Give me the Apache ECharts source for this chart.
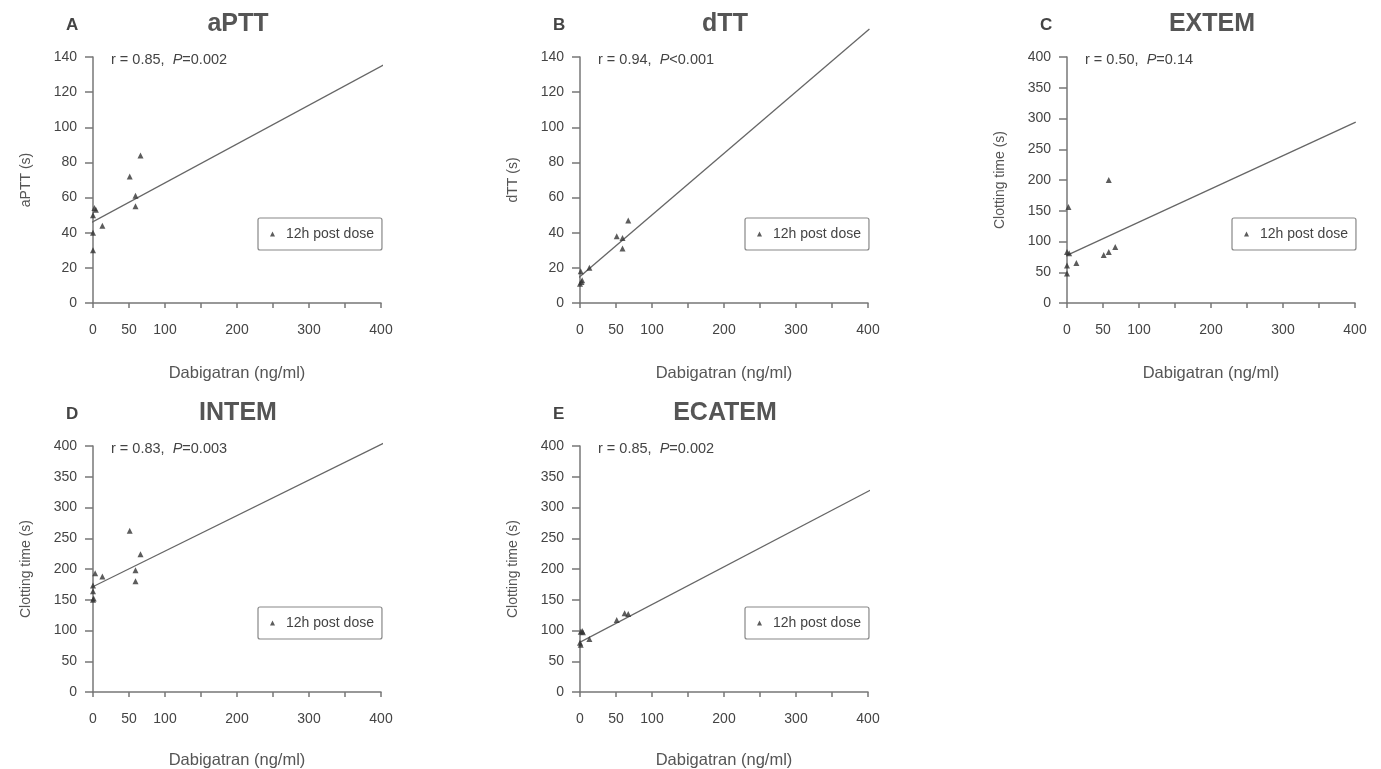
<!DOCTYPE html>
<html>
<head>
<meta charset="utf-8">
<script src="https://cdn.jsdelivr.net/npm/echarts@6/dist/echarts.min.js"></script>
<style>html,body{margin:0;padding:0;background:#fff;overflow:hidden}#c{width:1381px;height:769px}</style>
</head>
<body>
<div id="c"></div>
<script>
// ---- data ----
const panelLetters = ['A', 'B', 'C', 'D', 'E'];
const panelTitles = ['aPTT', 'dTT', 'EXTEM', 'INTEM', 'ECATEM'];
const yNames = ['aPTT (s)', 'dTT (s)', 'Clotting time (s)', 'Clotting time (s)', 'Clotting time (s)'];
const rValues = ['0.85', '0.94', '0.50', '0.83', '0.85'];
const pValues = ['=0.002', '<0.001', '=0.14', '=0.003', '=0.002'];
const yMax = [140, 140, 400, 400, 400];
const yStep = [20, 20, 50, 50, 50];
const xTicks = [0, 50, 100, 150, 200, 250, 300, 350, 400];
const xShownLabels = [0, 50, 100, 200, 300, 400];
const legendName = '12h post dose';

const aX = [66, 51, 59, 59, 2, 4, 0, 13, 0, 0];
const aY = [84, 72, 61, 55, 54, 53, 50, 44, 40, 30];
const aLineX = [-15, 415];
const aLineY = [43, 138];

const bX = [67, 51, 59, 59, 13, 1, 3, 0, 2];
const bY = [47, 38, 37, 31, 20, 18, 13, 11, 12];
const bLineX = [-16, 402];
const bLineY = [9.5, 156];

const cX = [58, 2, 0, 3, 67, 58, 51, 13, 0, 0];
const cY = [200, 156, 83, 81, 91, 83, 78, 65, 61, 48];
const cLineX = [-16, 401];
const cLineY = [69, 294];

const dX = [51, 66, 3, 13, 59, 59, 0, 0, 1, 0];
const dY = [262, 224, 193, 188, 198, 180, 173, 164, 152, 150];
const dLineX = [-17, 418];
const dLineY = [161.5, 413];

const eX = [62, 67, 51, 1, 4, 13, 1, 0, 3];
const eY = [128, 127, 117, 98, 97, 86, 77, 80, 99];
const eLineX = [-16, 403];
const eLineY = [71, 328];

const pointsX = [aX, bX, cX, dX, eX];
const pointsY = [aY, bY, cY, dY, eY];
const linesX = [aLineX, bLineX, cLineX, dLineX, eLineX];
const linesY = [aLineY, bLineY, cLineY, dLineY, eLineY];

// ---- layout ----
const FONT = "'Liberation Sans', Arial, sans-serif";
const gridPos = [
  {left: 93, top: 57, gap: 62}, {left: 580, top: 57, gap: 62}, {left: 1067, top: 57, gap: 62},
  {left: 93, top: 446, gap: 60}, {left: 580, top: 446, gap: 60}
];
const W = 288, H = 246;

const zip = (xs, ys) => xs.map((x, i) => [x, ys[i]]);

const grids = [], xAxes = [], yAxes = [], series = [], titles = [], legends = [];
gridPos.forEach((g, i) => {
  grids.push({left: g.left, top: g.top, width: W, height: H, containLabel: false, outerBoundsMode: 'none'});
  xAxes.push({
    type: 'value', gridIndex: i, min: 0, max: 400, interval: 50,
    name: 'Dabigatran (ng/ml)', nameLocation: 'middle', nameGap: g.gap,
    nameTextStyle: {fontFamily: FONT, fontSize: 16.5, color: '#555'},
    axisLine: {show: true, onZero: false, lineStyle: {color: '#777', width: 1.5}},
    axisTick: {show: true, length: 5, lineStyle: {color: '#777', width: 1.5}},
    axisLabel: {
      margin: 20, fontFamily: FONT, fontSize: 14, color: '#444',
      formatter: v => xShownLabels.indexOf(v) >= 0 ? String(v) : ''
    },
    splitLine: {show: false}
  });
  yAxes.push({
    type: 'value', gridIndex: i, min: 0, max: yMax[i], interval: yStep[i],
    name: yNames[i], nameLocation: 'middle', nameGap: 60,
    nameTextStyle: {fontFamily: FONT, fontSize: 14, color: '#555'},
    axisLine: {show: true, onZero: false, lineStyle: {color: '#777', width: 1.5}},
    axisTick: {show: true, length: 8, lineStyle: {color: '#777', width: 1.5}},
    axisLabel: {margin: 16, fontFamily: FONT, fontSize: 14, color: '#444'},
    splitLine: {show: false}
  });
  series.push({
    type: 'line', xAxisIndex: i, yAxisIndex: i,
    data: zip(linesX[i], linesY[i]), symbol: 'none', clip: false,
    lineStyle: {color: '#666', width: 1.3}, silent: true, z: 2
  });
  series.push({
    type: 'scatter', name: legendName, xAxisIndex: i, yAxisIndex: i,
    data: zip(pointsX[i], pointsY[i]), symbol: 'triangle', symbolSize: 6,
    itemStyle: {color: '#333'}, clip: false, z: 3
  });
  const cx = g.left + W / 2 + 1;
  titles.push({
    text: panelTitles[i], left: cx, textAlign: 'center', top: g.top - 45, padding: 0,
    textStyle: {fontFamily: FONT, fontSize: 25, fontWeight: 'bold', color: '#555'}
  });
  titles.push({
    text: panelLetters[i], left: g.left - 27, top: g.top - 40, padding: 0,
    textStyle: {fontFamily: FONT, fontSize: 17, fontWeight: 'bold', color: '#444'}
  });
  titles.push({
    text: '{n|r = ' + rValues[i] + ',  }{p|P}{n|' + pValues[i] + '}',
    left: g.left + 18, top: g.top - 5, padding: 0,
    textStyle: {
      fontWeight: 'normal',
      rich: {
        n: {fontFamily: FONT, fontSize: 14.5, color: '#444', fontWeight: 'normal'},
        p: {fontFamily: FONT, fontSize: 14.5, color: '#444', fontStyle: 'italic', fontWeight: 'normal'}
      }
    }
  });
  legends.push({
    data: [legendName], left: g.left + 165, top: g.top + H - 85,
    orient: 'vertical', icon: 'triangle', itemWidth: 5, itemHeight: 5,
    padding: [9, 8, 9, 12], borderColor: '#888', borderWidth: 1.2, borderRadius: 2,
    textStyle: {fontFamily: FONT, fontSize: 14, color: '#444', padding: [0, 0, 0, 6]},
    selectedMode: false
  });
});

const chart = echarts.init(document.getElementById('c'));
chart.setOption({
  animation: false,
  backgroundColor: '#fff',
  title: titles,
  legend: legends,
  grid: grids,
  xAxis: xAxes,
  yAxis: yAxes,
  series: series
});
</script>
</body>
</html>
